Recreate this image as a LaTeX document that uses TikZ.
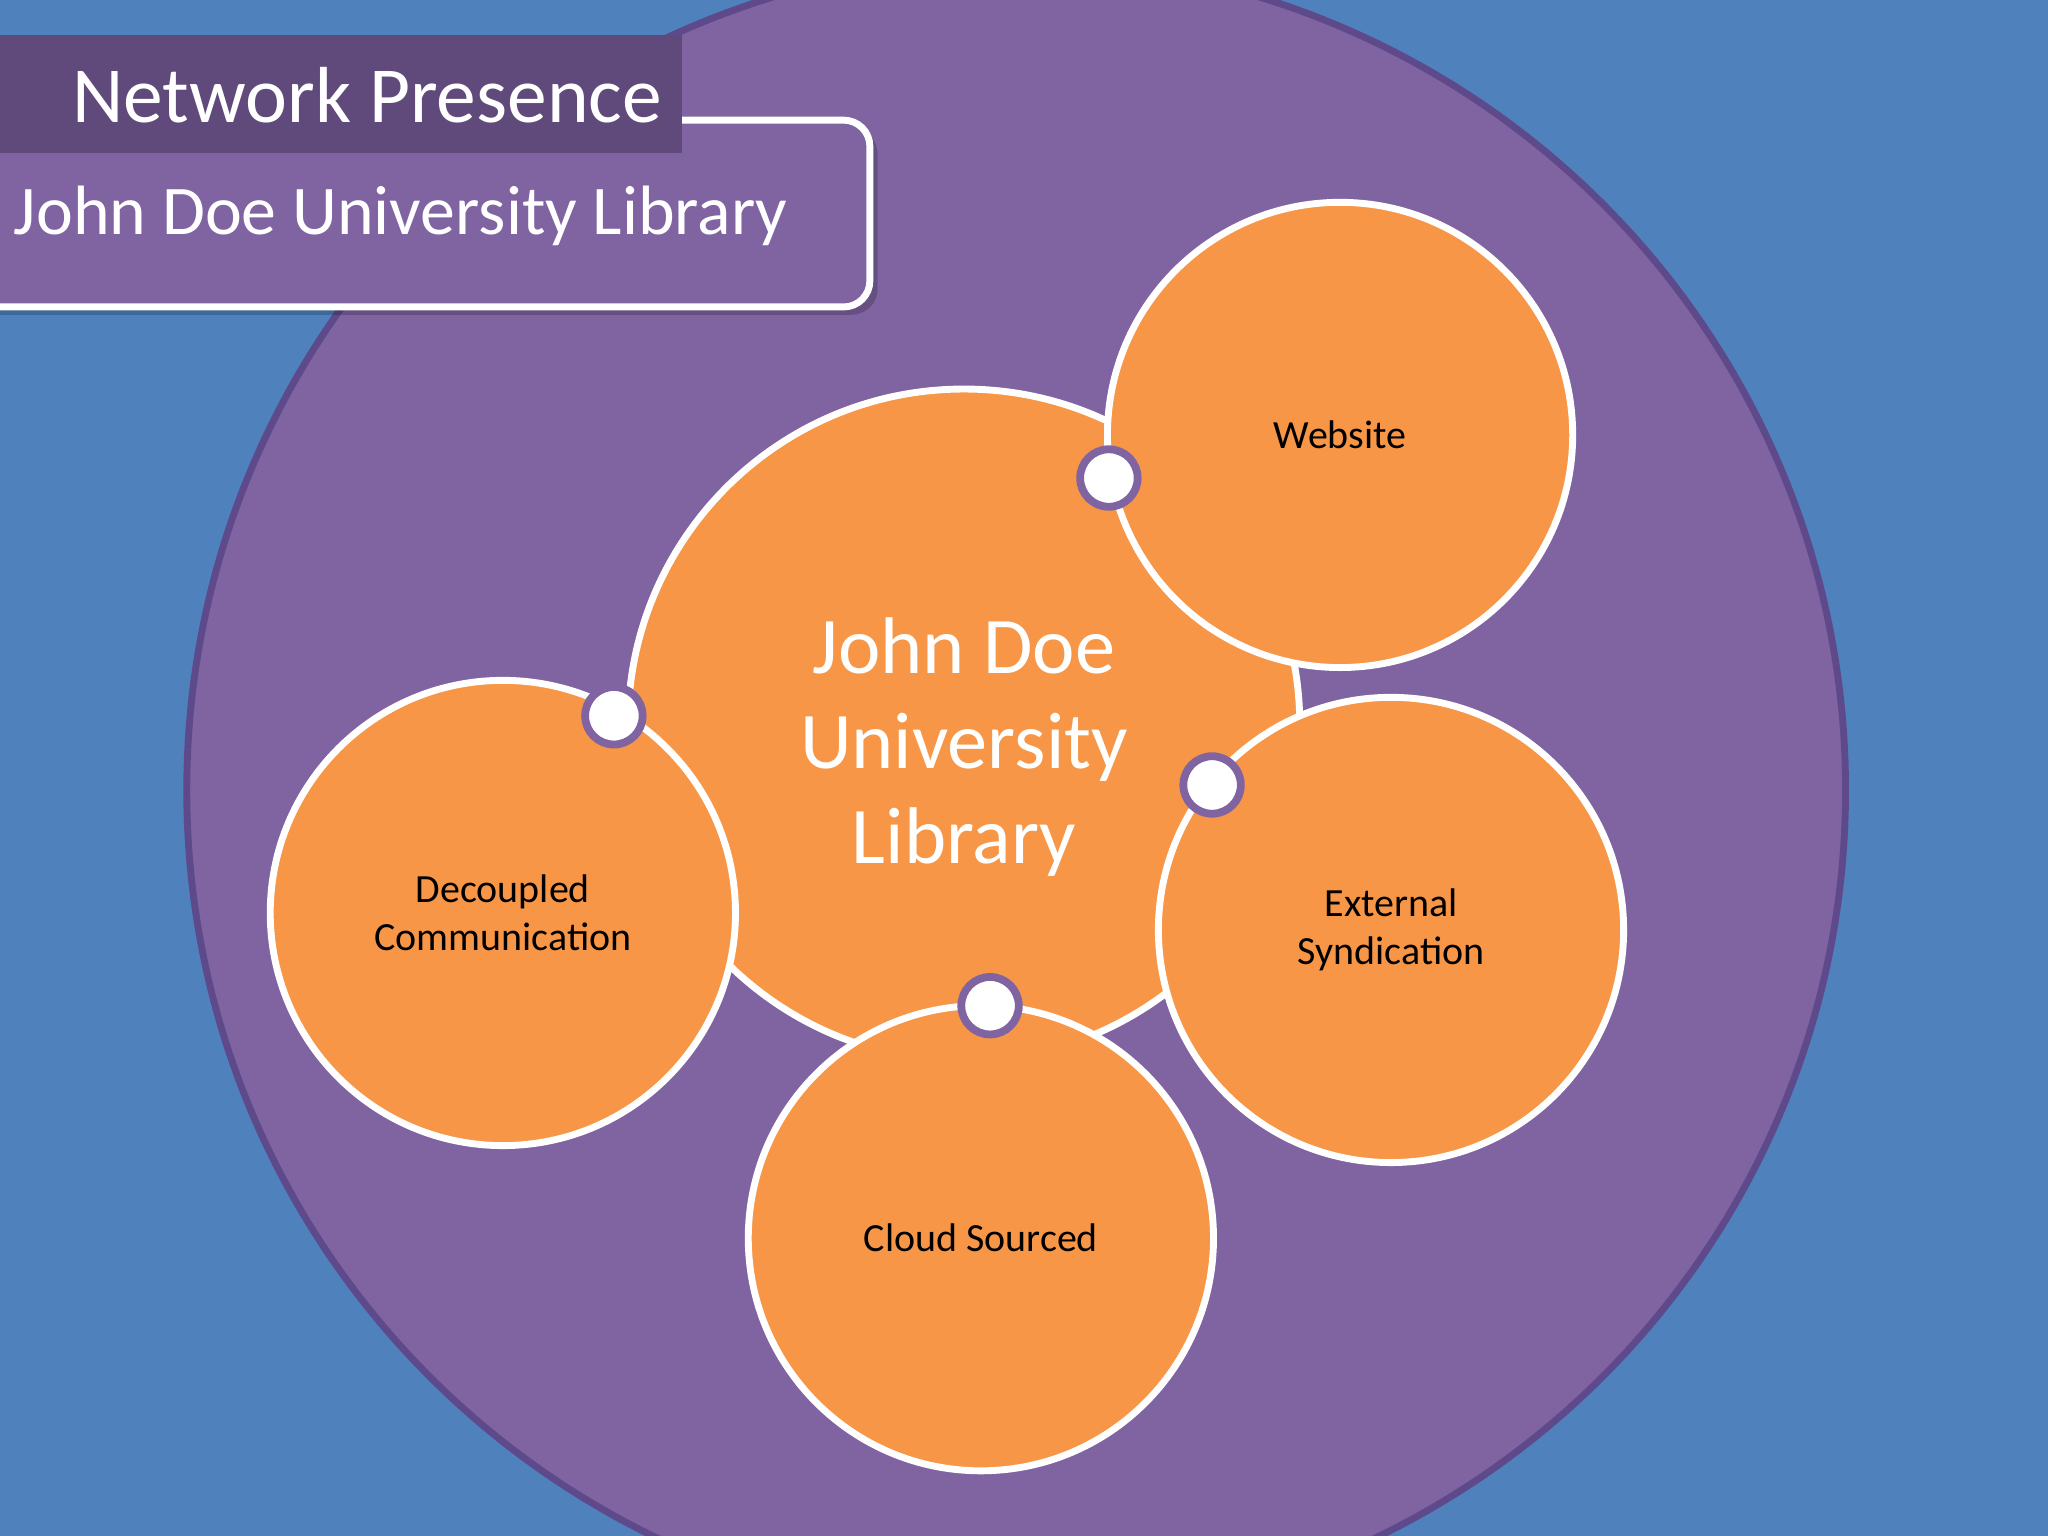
\documentclass[tikz,border=0pt]{standalone}
\usepackage{fontspec}
\setmainfont{Carlito}
\definecolor{bgblue}{HTML}{4F81BD}
\definecolor{purp}{HTML}{8064A2}
\definecolor{dpurp}{HTML}{604A7B}
\definecolor{rimp}{HTML}{5E4A8A}
\definecolor{orng}{HTML}{F79646}
\begin{document}
\begin{tikzpicture}[x=0.01cm,y=-0.01cm,
  sat/.style={circle,fill=orng,draw=white,line width=1.5pt,minimum size=3.56cm,inner sep=0pt,align=center,font=\fontsize{8.7}{10.5}\selectfont},
  dot/.style={circle,fill=white,draw=purp,line width=1.7pt,minimum size=0.44cm,inner sep=0pt}]
\useasboundingbox (0,0) rectangle (1568,1176);
\fill[bgblue] (0,0) rectangle (1568,1176);
\begin{scope}
\clip (0,0) rectangle (1568,1176);
\fill[purp,draw=rimp,line width=1.5pt] (778,605) circle (635);
\end{scope}
% subtitle box
\fill[black,opacity=0.2] (-20,98) [rounded corners=0.2cm] -- (672,98) -- (672,241) -- (-20,241) -- cycle;
\draw[fill=purp,draw=white,line width=1.5pt,rounded corners=0.2cm] (-20,92) -- (666,92) -- (666,235) -- (-20,235) -- cycle;
\node[anchor=west,text=white,font=\fontsize{15.2}{17}\selectfont,inner sep=0pt] (sub) at (10,165) {John Doe University Library};
\fill[dpurp] (0,27) rectangle (522,117);
\node[text=white,font=\fontsize{17.3}{19}\selectfont] (title) at (281,73) {Network Presence};
% center
\node[circle,fill=orng,draw=white,line width=1.5pt,minimum size=5.14cm,inner sep=0pt,align=center,text=white,font=\fontsize{17.5}{20.7}\selectfont] (c) at (738,555) {};
\node[text=white,align=center,font=\fontsize{17.5}{20.7}\selectfont] (ct) at (738,572) {John Doe\\University\\Library};
\node[sat] (w) at (1026,333) {Website};
\node[sat] (e) at (1065,712) {External\\Syndication};
\node[sat] (cl) at (751,948) {Cloud Sourced};
\node[sat] (d) at (385,699) {Decoupled\\Communication};
\node[dot] (d1) at (849,366) {};
\node[dot] (d2) at (470,548) {};
\node[dot] (d3) at (928,601) {};
\node[dot] (d4) at (758,770) {};
\end{tikzpicture}
\end{document}
